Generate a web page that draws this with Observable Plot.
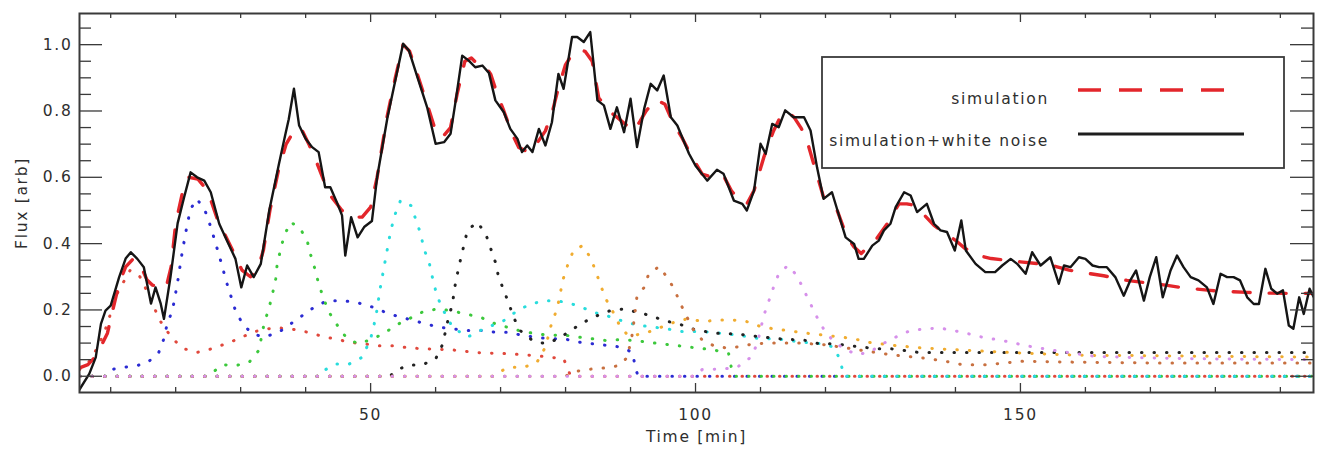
<!DOCTYPE html>
<html><head><meta charset="utf-8">
<script src="https://cdn.jsdelivr.net/npm/d3@7"></script>
<script src="https://cdn.jsdelivr.net/npm/@observablehq/plot@0.6"></script>
<style>
html,body{margin:0;padding:0;background:#fff;}
#chart svg text{letter-spacing:1.7px;}
</style></head><body><div id="chart"></div>
<script>
// ---------- data ----------
const xLabel = "Time [min]";
const yLabel = "Flux [arb]";
const legendLabels = ["simulation", "simulation+white noise"];
const xMajor = [50, 100, 150];
const xMinor = [10,20,30,40,60,70,80,90,110,120,130,140,160,170,180,190];
const yMajor = [0, 0.2, 0.4, 0.6, 0.8, 1.0];
const yMinor = [0.05,0.1,0.15,0.25,0.3,0.35,0.45,0.5,0.55,0.65,0.7,0.75,0.85,0.9,0.95,1.05];

const noisyTime = [5.2,6.7,7.7,8.5,9.2,10.0,11.3,12.3,13.1,14.1,15.1,16.2,16.9,17.7,18.2,19.2,20.3,21.3,22.3,23.3,24.4,25.4,26.7,27.9,29.2,30.1,31.0,32.0,33.1,34.4,35.9,36.9,37.4,38.2,39.0,40.0,41.0,42.0,43.0,43.8,44.9,45.6,46.1,47.0,48.0,49.0,50.2,51.0,52.6,53.8,55.0,55.9,57.2,58.7,60.0,61.3,62.3,63.1,64.1,65.1,66.1,67.2,68.2,69.2,70.5,71.5,72.6,73.3,74.1,74.9,75.9,76.9,77.9,78.9,79.7,81.0,81.8,82.8,83.8,84.9,85.9,86.9,87.9,89.0,90.0,91.0,92.1,93.1,94.1,95.1,96.2,97.2,99.0,100.0,101.8,103.3,104.3,105.9,107.2,107.9,109.0,110.0,110.8,111.8,112.8,113.8,115.1,116.7,117.7,118.7,119.7,121.0,122.0,123.1,124.4,125.1,125.9,127.2,128.2,129.0,130.0,130.8,132.1,133.1,134.1,135.6,136.7,137.7,138.7,139.9,140.9,141.6,143.1,144.6,146.1,147.2,148.5,149.5,150.8,151.8,153.1,154.6,155.9,156.7,157.7,159.0,160.0,161.1,162.1,163.3,164.6,165.9,166.9,167.8,169.0,169.9,170.9,171.9,173.1,174.1,175.1,176.2,177.4,178.7,179.7,180.8,181.8,182.8,183.8,184.9,185.9,186.7,187.7,188.6,189.5,190.4,191.3,192.0,192.9,193.6,194.5,195.1];
const noisyFlux = [-0.04,0.007,0.057,0.158,0.198,0.213,0.299,0.355,0.374,0.354,0.329,0.219,0.268,0.219,0.173,0.299,0.461,0.540,0.615,0.600,0.590,0.555,0.460,0.409,0.354,0.268,0.334,0.299,0.339,0.500,0.641,0.731,0.775,0.867,0.756,0.716,0.691,0.676,0.570,0.570,0.520,0.485,0.364,0.480,0.419,0.450,0.468,0.600,0.781,0.892,1.003,0.982,0.902,0.811,0.701,0.706,0.731,0.832,0.967,0.952,0.932,0.937,0.915,0.832,0.796,0.746,0.716,0.676,0.696,0.676,0.746,0.696,0.766,0.912,0.867,1.023,1.023,1.008,1.038,0.832,0.817,0.746,0.811,0.736,0.837,0.691,0.807,0.882,0.862,0.907,0.781,0.756,0.671,0.635,0.590,0.623,0.611,0.530,0.520,0.500,0.560,0.701,0.671,0.761,0.751,0.802,0.781,0.781,0.741,0.630,0.535,0.555,0.490,0.419,0.399,0.354,0.354,0.394,0.409,0.440,0.460,0.510,0.555,0.545,0.495,0.520,0.460,0.440,0.435,0.379,0.470,0.379,0.339,0.314,0.314,0.334,0.354,0.339,0.309,0.374,0.334,0.359,0.279,0.334,0.329,0.359,0.354,0.334,0.329,0.329,0.299,0.243,0.289,0.319,0.228,0.299,0.359,0.238,0.319,0.364,0.329,0.299,0.289,0.268,0.218,0.309,0.299,0.299,0.289,0.238,0.218,0.218,0.324,0.264,0.249,0.259,0.153,0.143,0.238,0.188,0.264,0.240];

const simTime = [5.2,6.5,7.7,8.5,9.5,10.2,11.3,12.3,13.5,14.7,15.6,16.4,17.5,18.5,19.3,20.0,21.0,22.0,23.4,24.9,26.4,27.5,29.0,30.2,31.5,32.6,33.5,34.5,35.8,37.0,38.5,39.5,40.5,41.8,42.8,44.0,45.6,47.0,48.7,50.0,51.0,52.5,53.8,55.0,56.0,57.2,58.7,60.0,61.0,62.3,63.3,64.5,65.5,66.5,67.5,68.5,69.5,70.5,71.8,72.8,74.4,75.5,76.9,78.0,78.9,80.0,81.0,82.0,83.0,84.1,85.1,86.7,88.0,89.2,90.5,91.5,92.4,93.8,95.3,96.4,97.9,99.5,101.0,102.5,104.3,105.5,107.0,107.9,109.0,110.5,112.0,113.0,114.1,115.2,116.2,117.0,118.2,119.7,120.8,121.8,123.3,124.4,125.5,126.5,127.7,129.5,131.3,132.5,133.8,135.5,136.7,138.5,140.0,141.5,143.6,145.5,147.7,150.0,152.5,154.9,157.5,160.8,162.8,166.4,168.5,172.6,174.6,179.2,181.0,184.9,187.0,191.0,195.1];
const simFlux = [0.025,0.035,0.06,0.09,0.13,0.19,0.28,0.33,0.355,0.33,0.29,0.275,0.27,0.265,0.33,0.46,0.55,0.60,0.595,0.56,0.475,0.43,0.37,0.32,0.30,0.32,0.38,0.50,0.62,0.70,0.75,0.74,0.70,0.64,0.59,0.54,0.50,0.48,0.48,0.51,0.60,0.78,0.90,1.00,0.98,0.91,0.82,0.74,0.72,0.75,0.85,0.95,0.96,0.94,0.94,0.91,0.85,0.80,0.73,0.69,0.675,0.70,0.74,0.80,0.87,0.94,0.97,0.985,0.98,0.95,0.84,0.80,0.78,0.76,0.74,0.77,0.80,0.835,0.82,0.77,0.72,0.66,0.61,0.60,0.605,0.56,0.525,0.52,0.56,0.66,0.74,0.78,0.80,0.78,0.75,0.72,0.64,0.54,0.52,0.50,0.42,0.39,0.37,0.39,0.41,0.46,0.52,0.52,0.515,0.48,0.455,0.43,0.41,0.385,0.364,0.355,0.35,0.345,0.34,0.334,0.32,0.309,0.303,0.289,0.284,0.274,0.268,0.259,0.256,0.253,0.251,0.25,0.25];

const redTime = [5.2,7,9,11,13,14.5,16,17.5,19.5,21.3,23.3,25.6,27.7,29.7,31.8,34.1,35.9,38.2,40.5,42.6,44.9,46.9,48.9,51.2,53.5,55.7,58,62.3,66.6,71.1,75.4,79.7,80.8,195.1];
const redFlux = [0.02,0.05,0.13,0.25,0.32,0.30,0.24,0.17,0.113,0.083,0.072,0.083,0.098,0.113,0.133,0.143,0.146,0.141,0.132,0.12,0.111,0.102,0.098,0.092,0.092,0.086,0.083,0.08,0.071,0.068,0.062,0.053,0,0];

const blueTime = [5.2,9.5,10.5,12,14,15.6,17.4,18.2,18.7,19.5,20.3,21,21.8,22.3,23.3,24.6,25.4,26.7,27.9,29.2,30.3,31.8,33.6,35.9,37.7,39.5,41.3,43.3,45.6,47.7,49.7,52,53.8,56.2,58.5,60.5,62.6,65,67,69.2,71.3,73.3,75.4,77.4,79.7,82,84.1,86.4,88.5,90.3,90.8,91.2,195.1];
const blueFlux = [0,0,0.022,0.027,0.032,0.04,0.072,0.114,0.159,0.198,0.284,0.374,0.46,0.505,0.535,0.495,0.45,0.364,0.279,0.198,0.158,0.128,0.118,0.133,0.158,0.183,0.208,0.228,0.228,0.223,0.213,0.195,0.183,0.17,0.158,0.148,0.143,0.138,0.138,0.133,0.133,0.123,0.118,0.113,0.113,0.103,0.098,0.093,0.088,0.072,0.02,0,0];

const greenTime = [5.2,24.8,25.4,27.2,29.2,31.3,32.8,33.6,34.4,34.9,35.4,35.6,36.1,36.7,37.7,39.2,40.3,40.8,41.5,42,42.8,43.6,44.9,46.2,48,49.7,52,53.8,55.9,57.9,60.2,62.3,64.6,66.9,69.2,71,72.8,75.4,77.9,79.5,82,84.1,86.1,88.2,90.3,92.6,94.6,97,99,101.3,103.1,105.1,105.6,106,195.1];
const greenFlux = [0,0,0.007,0.035,0.032,0.042,0.078,0.158,0.208,0.249,0.294,0.334,0.379,0.424,0.465,0.445,0.404,0.364,0.319,0.279,0.233,0.193,0.153,0.118,0.098,0.108,0.128,0.153,0.173,0.193,0.203,0.198,0.188,0.178,0.158,0.148,0.138,0.128,0.123,0.125,0.118,0.113,0.108,0.11,0.108,0.103,0.098,0.093,0.088,0.083,0.078,0.068,0.017,0,0];

const cyanTime = [5.2,42.3,42.8,44.6,46.7,48.7,50,50.8,51.5,52.3,53.1,53.8,54.6,56.2,57,57.7,58.2,59,59.5,60,60.8,62.6,64.9,66.9,70.5,72.6,74.4,76.7,78.7,81,83.1,85.1,87.2,89.2,91.5,93.6,95.6,97.9,100.2,102.3,106.9,110,112.6,116.2,119.3,121.3,122.3,122.8,195.1];
const cyanFlux = [0,0,0.017,0.037,0.037,0.057,0.113,0.178,0.268,0.354,0.44,0.49,0.53,0.515,0.47,0.43,0.384,0.344,0.299,0.259,0.213,0.148,0.118,0.138,0.168,0.198,0.216,0.228,0.228,0.218,0.203,0.188,0.178,0.163,0.153,0.148,0.143,0.135,0.135,0.133,0.123,0.113,0.113,0.103,0.098,0.088,0.047,0,0];

const blackTime = [5.2,53,53.8,55.9,57.9,60,61,61.5,62,62.6,62.9,63.3,63.8,64.9,66.4,67.7,68.5,69.2,69.7,70.5,71.3,72,73,74.9,76.9,78.9,80.8,82.8,84.9,86.9,89,91,93.1,95.1,97.4,99.5,102,104.1,106.2,108.2,110.5,112.8,117,119,121.3,123.3,125.6,127.9,130,132.1,134.3,140,150,160,175,195.1];
const blackFlux = [0,0,0.017,0.034,0.034,0.052,0.093,0.133,0.178,0.218,0.264,0.304,0.349,0.44,0.465,0.43,0.384,0.344,0.299,0.259,0.218,0.178,0.138,0.108,0.098,0.113,0.138,0.163,0.183,0.198,0.203,0.193,0.183,0.168,0.158,0.143,0.133,0.128,0.128,0.123,0.118,0.113,0.108,0.098,0.098,0.093,0.088,0.083,0.083,0.078,0.072,0.072,0.072,0.072,0.072,0.072];

const orangeTime = [5.2,69,69.7,71.3,73.6,75.6,76.9,77.9,78.7,79.6,80.3,81.2,82.6,83.8,84.6,85.4,86.2,87.2,88.2,89.5,91,93,95,97,98.7,101.3,103.5,105.5,107.7,110,112,114.1,117,120.2,122.5,124.4,126.4,128.5,130.5,135,140,145,150,155,160,170,180,195.1];
const orangeFlux = [0,0,0.012,0.027,0.027,0.042,0.088,0.163,0.203,0.291,0.334,0.379,0.394,0.359,0.319,0.274,0.233,0.198,0.158,0.125,0.125,0.135,0.15,0.165,0.173,0.165,0.17,0.17,0.166,0.15,0.143,0.138,0.13,0.123,0.118,0.113,0.103,0.098,0.093,0.085,0.08,0.075,0.07,0.066,0.063,0.062,0.06,0.058];

const brownTime = [5.2,80,81,83,86,88.2,89.5,90.3,91,92.1,92.8,94.4,95.6,96.7,97.7,98.7,99.7,101,103,105,107,109,112,116,120,125,130,135,138,141,145,150,160,170,180,195.1];
const brownFlux = [0,0,0.012,0.02,0.025,0.032,0.057,0.13,0.243,0.268,0.309,0.331,0.299,0.264,0.218,0.178,0.14,0.11,0.09,0.085,0.09,0.098,0.1,0.1,0.095,0.08,0.065,0.055,0.047,0.035,0.035,0.045,0.042,0.04,0.04,0.04];

const violetTime = [5.2,100,101,104.3,106.4,108.5,109.5,110.5,111.3,112,112.8,114.2,115.6,116.7,117.7,118.7,119.7,121.3,123.3,125,127,129,131.3,133.1,135.4,137.7,139.7,142,144.1,146.5,148.5,150.6,155.1,161.5,170,180,195.1];
const violetFlux = [0,0,0.02,0.022,0.027,0.057,0.098,0.183,0.228,0.268,0.309,0.334,0.304,0.259,0.218,0.178,0.143,0.103,0.078,0.065,0.075,0.1,0.123,0.138,0.143,0.145,0.138,0.128,0.118,0.11,0.103,0.093,0.078,0.06,0.055,0.052,0.05];

// ---------- styling ----------
const W = 1320, H = 450, mL = 79, mR = 7, mT = 13, mB = 58;
const innerW = W - mL - mR, innerH = H - mT - mB;
const zip = (t, v) => t.map((x, i) => ({t: x, f: v[i]}));

const components = [
  {t: redTime, f: redFlux, color: "#e0483c"},
  {t: blueTime, f: blueFlux, color: "#2b2bd2"},
  {t: greenTime, f: greenFlux, color: "#3cc83c"},
  {t: cyanTime, f: cyanFlux, color: "#28dcdc"},
  {t: blackTime, f: blackFlux, color: "#222222"},
  {t: orangeTime, f: orangeFlux, color: "#f0ac30"},
  {t: brownTime, f: brownFlux, color: "#c87040"},
  {t: violetTime, f: violetFlux, color: "#d690ea"}
];

const axisColor = "#3a3a3a";
const marks = [
  ...components.map(c => Plot.line(zip(c.t, c.f), {x: "t", y: "f", stroke: c.color, strokeWidth: 3, strokeLinecap: "round", strokeDasharray: "0.5,12", clip: true})),
  Plot.line(zip(simTime, simFlux), {x: "t", y: "f", stroke: "#e3262b", strokeWidth: 3.4, strokeDasharray: "17,19", clip: true}),
  Plot.line(zip(noisyTime, noisyFlux), {x: "t", y: "f", stroke: "#151515", strokeWidth: 2.4, clip: true}),
  Plot.tickY(yMinor, {y: d => d, insetRight: innerW - 12, stroke: axisColor, strokeWidth: 1.3}),
  Plot.tickY(yMajor, {y: d => d, insetRight: innerW - 23, stroke: axisColor, strokeWidth: 1.3}),
  Plot.tickY(yMinor, {y: d => d, insetLeft: innerW - 12, stroke: axisColor, strokeWidth: 1.3}),
  Plot.tickY(yMajor, {y: d => d, insetLeft: innerW - 23, stroke: axisColor, strokeWidth: 1.3}),
  Plot.tickX(xMinor, {x: d => d, insetTop: innerH - 5, stroke: axisColor, strokeWidth: 1.3}),
  Plot.tickX(xMajor, {x: d => d, insetTop: innerH - 9, stroke: axisColor, strokeWidth: 1.3}),
  Plot.tickX(xMinor, {x: d => d, insetBottom: innerH - 5, stroke: axisColor, strokeWidth: 1.3}),
  Plot.tickX(xMajor, {x: d => d, insetBottom: innerH - 9, stroke: axisColor, strokeWidth: 1.3}),
  Plot.frame({stroke: axisColor, strokeWidth: 2}),
  Plot.axisY({ticks: yMajor, tickSize: 0, tickPadding: 7, tickFormat: d3.format(".1f"), label: null}),
  Plot.axisX({ticks: xMajor, tickSize: 0, tickPadding: 16, tickFormat: d => String(d), label: null}),
  Plot.text([yLabel], {text: d => d, frameAnchor: "left", dx: -57, rotate: -90, textAnchor: "middle", lineAnchor: "middle"}),
  Plot.text([xLabel], {text: d => d, frameAnchor: "bottom", dy: 45, textAnchor: "middle", lineAnchor: "middle"})
];

const plot = Plot.plot({
  width: W, height: H,
  marginLeft: mL, marginRight: mR, marginTop: mT, marginBottom: mB,
  x: {domain: [5.2, 195.1]},
  y: {domain: [-0.049, 1.094]},
  style: "font-size:15.5px;font-family:'DejaVu Sans',sans-serif;color:#2e2e2e;background:#fff;",
  marks
});

// legend
const svg = d3.select(plot);
const lg = svg.append("g").attr("font-family", "'DejaVu Sans',sans-serif").attr("font-size", 15.5).attr("fill", "#2e2e2e");
lg.append("rect").attr("x", 822).attr("y", 57).attr("width", 462).attr("height", 111)
  .attr("fill", "#fff").attr("stroke", axisColor).attr("stroke-width", 1.8);
lg.append("text").attr("x", 1049).attr("y", 104).attr("text-anchor", "end").text(legendLabels[0]);
lg.append("text").attr("x", 1049).attr("y", 146).attr("text-anchor", "end").text(legendLabels[1]);
lg.append("line").attr("x1", 1078).attr("x2", 1224).attr("y1", 90).attr("y2", 90)
  .attr("stroke", "#e3262b").attr("stroke-width", 3.4).attr("stroke-dasharray", "23,18");
lg.append("line").attr("x1", 1078).attr("x2", 1244).attr("y1", 134).attr("y2", 134)
  .attr("stroke", "#1e1e1e").attr("stroke-width", 3);

document.getElementById("chart").appendChild(plot);
</script></body></html>
